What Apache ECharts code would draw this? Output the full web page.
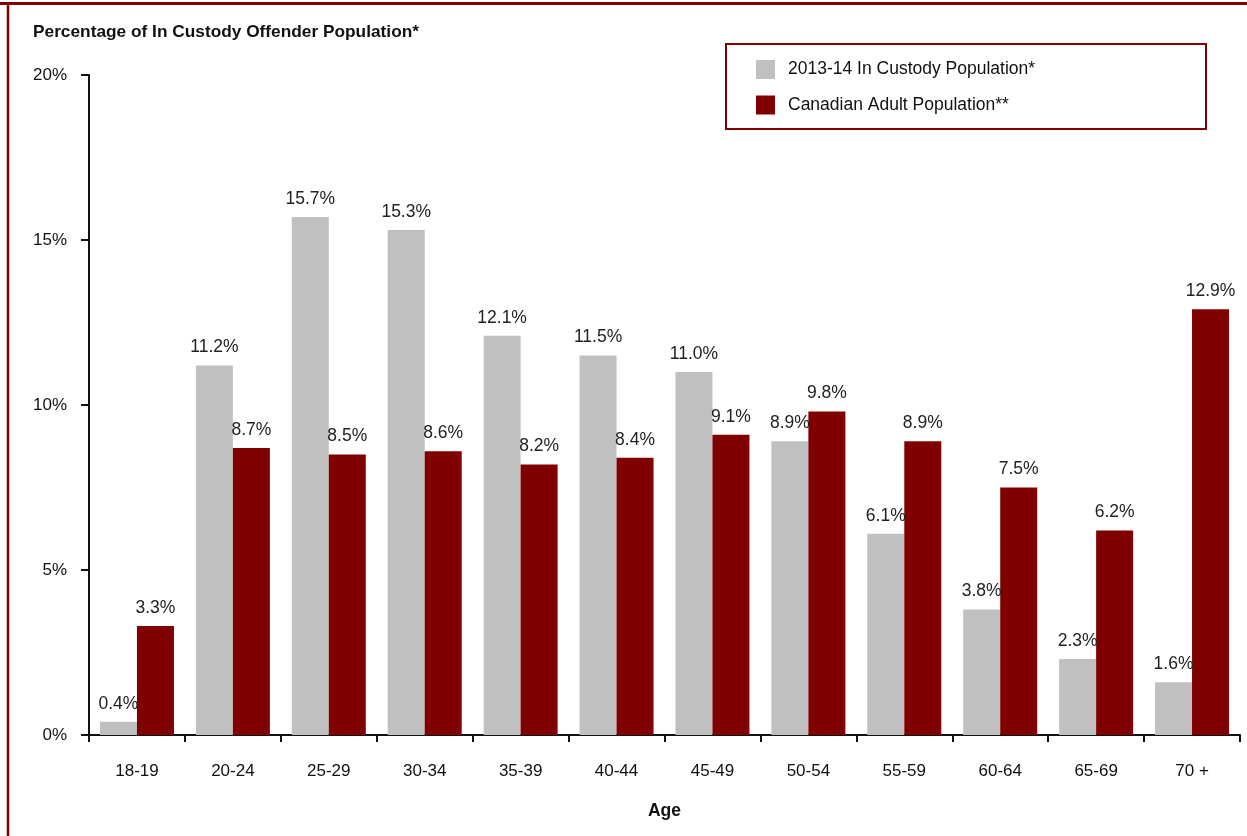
<!DOCTYPE html>
<html>
<head>
<meta charset="utf-8">
<script src="https://cdn.jsdelivr.net/npm/echarts@6/dist/echarts.min.js"></script>
<style>
html,body{margin:0;padding:0;background:#fff;}
#c{width:1247px;height:836px;}
</style>
</head>
<body>
<div id="c"></div>
<script>
const categories = ['18-19','20-24','25-29','30-34','35-39','40-44','45-49','50-54','55-59','60-64','65-69','70 +'];
const custodyValues = [0.4, 11.2, 15.7, 15.3, 12.1, 11.5, 11.0, 8.9, 6.1, 3.8, 2.3, 1.6];
const canadianValues = [3.3, 8.7, 8.5, 8.6, 8.2, 8.4, 9.1, 9.8, 8.9, 7.5, 6.2, 12.9];
const seriesNames = ['2013-14 In Custody Population*', 'Canadian Adult Population**'];
const yTicks = [0, 5, 10, 15, 20];

const FONT = '"Liberation Sans", Arial, sans-serif';
const chart = echarts.init(document.getElementById('c'), null, {renderer: 'canvas'});
const labelStyle = {
  show: true, position: 'top', distance: 9,
  fontFamily: FONT, fontSize: 17.5, color: '#222',
  formatter: p => p.value.toFixed(1) + '%'
};
chart.setOption({
  animation: false,
  backgroundColor: '#fff',
  textStyle: {fontFamily: FONT},
  title: {
    text: 'Percentage of In Custody Offender Population*',
    left: 28, top: 19,
    textStyle: {fontFamily: FONT, fontSize: 17.3, fontWeight: 'bold', color: '#111'}
  },
  legend: {
    orient: 'vertical', left: 751, top: 55,
    itemWidth: 19, itemHeight: 19, itemGap: 16.5,
    icon: 'rect',
    textStyle: {fontFamily: FONT, fontSize: 17.5, color: '#111', padding: [0,0,0,8]},
    data: seriesNames
  },
  graphic: [
    {type: 'rect', shape: {x: 726, y: 44, width: 480, height: 85}, style: {fill: 'none', stroke: '#800000', lineWidth: 2}, z: 10},
    {type: 'line', shape: {x1: 0, y1: 3.5, x2: 1247, y2: 3.5}, style: {stroke: '#800000', lineWidth: 3}},
    {type: 'line', shape: {x1: 8, y1: 2, x2: 8, y2: 836}, style: {stroke: '#800000', lineWidth: 2.5}}
  ],
  grid: {left: 89, right: 7, top: 75, bottom: 101, containLabel: false},
  xAxis: {
    type: 'category', data: categories,
    name: 'Age', nameLocation: 'middle', nameGap: 67,
    nameTextStyle: {fontFamily: FONT, fontSize: 17.5, fontWeight: 'bold', color: '#111'},
    axisLine: {lineStyle: {color: '#111', width: 2}},
    axisTick: {show: true, length: 7, lineStyle: {color: '#111', width: 2}},
    axisLabel: {fontFamily: FONT, fontSize: 17, color: '#111', margin: 28}
  },
  yAxis: {
    type: 'value', min: yTicks[0], max: yTicks[yTicks.length-1], interval: 5,
    axisLine: {show: true, lineStyle: {color: '#111', width: 2}},
    axisTick: {show: true, length: 8, lineStyle: {color: '#111', width: 2}},
    splitLine: {show: false},
    axisLabel: {fontFamily: FONT, fontSize: 17, color: '#111', margin: 22, formatter: v => v + '%'}
  },
  series: [
    {name: seriesNames[0], type: 'bar', data: custodyValues, barWidth: 37, barGap: '0%',
     itemStyle: {color: '#c0c0c0'}, label: labelStyle},
    {name: seriesNames[1], type: 'bar', data: canadianValues, barWidth: 37, barGap: '0%',
     itemStyle: {color: '#800000'}, label: labelStyle}
  ]
});
</script>
</body>
</html>
